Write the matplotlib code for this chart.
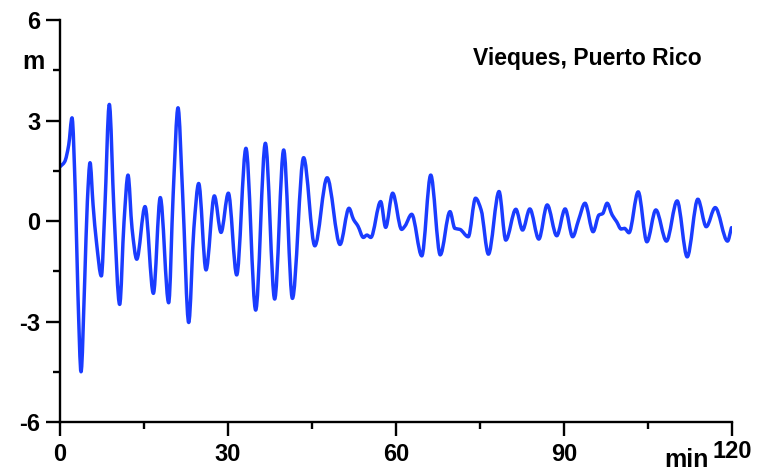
import numpy as np
import matplotlib
matplotlib.use('Agg')
from matplotlib import pyplot as plt
from matplotlib.path import Path
from matplotlib.patches import PathPatch
from matplotlib.ticker import MultipleLocator

# 潮位记录: 时间 (min) 与水位 (m), 取波峰、波谷及拐点
t = [0.0, 0.83, 1.55, 2.14, 2.74, 3.2, 3.75, 4.4, 4.88, 5.36, 5.9, 6.5, 7.38, 7.98,
     8.8, 9.64, 10.65, 11.43, 12.14, 12.86, 13.7, 15.18, 16.67, 17.9, 19.4, 20.2,
     21.07, 21.9, 22.98, 23.9, 24.76, 26.07, 27.56, 28.75, 30.06, 31.55, 33.2,
     34.94, 36.67, 38.33, 39.94, 41.5, 43.5, 45.5, 47.7, 50.0, 51.6, 52.4, 53.2,
     54.17, 54.8, 55.5, 57.26, 58.15, 59.4, 61.0, 61.6, 62.8, 64.6, 66.2, 67.9,
     69.64, 70.5, 71.4, 72.9, 74.2, 75.2, 76.5, 78.4, 79.6, 81.4, 82.6, 83.9,
     85.5, 87.0, 88.7, 90.2, 91.55, 92.6, 93.75, 95.2, 96.25, 96.9, 97.7, 98.6,
     99.4, 100.2, 100.8, 101.6, 103.25, 104.8, 106.4, 108.3, 110.2, 112.0, 113.9,
     115.4, 117.0, 119.2, 119.9]
h = [1.62, 1.77, 2.27, 3.08, 0.78, -2.2, -4.5, -1.81, 0.58, 1.74, 0.48, -0.62, -1.64, 0.28,
     3.48, 0.28, -2.49, -0.02, 1.37, -0.22, -1.14, 0.43, -2.16, 0.7, -2.44, 0.78,
     3.38, 0.78, -3.03, -0.22, 1.12, -1.46, 0.75, -0.34, 0.83, -1.61, 2.17,
     -2.66, 2.32, -2.33, 2.12, -2.31, 1.89, -0.74, 1.29, -0.7, 0.38, 0.05, -0.15,
     -0.49, -0.42, -0.49, 0.58, -0.19, 0.83, -0.25, -0.15, 0.2, -1.04, 1.37, -1.01,
     0.28, -0.22, -0.25, -0.47, 0.68, 0.33, -0.99, 0.88, -0.57, 0.35, -0.27, 0.36,
     -0.54, 0.48, -0.44, 0.36, -0.47, 0.03, 0.53, -0.32, 0.18, 0.22, 0.53, 0.18,
     -0.02, -0.24, -0.22, -0.35, 0.87, -0.62, 0.33, -0.6, 0.6, -1.07, 0.65,
     -0.17, 0.4, -0.6, -0.2]

xticks = [0, 30, 60, 90, 120]
yticks = [-6, -3, 0, 3, 6]
station = 'Vieques, Puerto Rico'


def smooth_path(x, y):
    # 分段三次 Hermite (保形斜率), 转成 Bezier 曲线交给 matplotlib 绘制
    x = np.asarray(x, float)
    y = np.asarray(y, float)
    dx = np.diff(x)
    d = np.diff(y) / dx
    m = np.zeros_like(y)
    for k in range(1, len(y) - 1):
        if d[k - 1] * d[k] > 0:
            w1 = 2 * dx[k] + dx[k - 1]
            w2 = dx[k] + 2 * dx[k - 1]
            m[k] = (w1 + w2) / (w1 / d[k - 1] + w2 / d[k])
    m[0] = d[0]
    m[-1] = d[-1]
    verts = [(x[0], y[0])]
    codes = [Path.MOVETO]
    for k in range(len(dx)):
        s = dx[k] / 3
        verts += [(x[k] + s, y[k] + m[k] * s),
                  (x[k + 1] - s, y[k + 1] - m[k + 1] * s),
                  (x[k + 1], y[k + 1])]
        codes += [Path.CURVE4] * 3
    return Path(verts, codes)


plt.rcParams['font.family'] = ['Liberation Sans', 'DejaVu Sans']
plt.rcParams['font.weight'] = 'bold'

fig = plt.figure(figsize=(7.58, 4.74), dpi=100)
ax = fig.add_axes([0.0792, 0.1097, 0.8865, 0.8481])

ax.add_patch(PathPatch(smooth_path(t, h), fill=False, edgecolor='#1a3cff',
                       lw=2.5, joinstyle='round', capstyle='round'))

ax.set_xlim(0, 120)
ax.set_ylim(-6, 6)
ax.set_xticks(xticks)
ax.set_yticks(yticks)
ax.xaxis.set_minor_locator(MultipleLocator(15))
ax.yaxis.set_minor_locator(MultipleLocator(1.5))
ax.set_xticklabels([str(v) if v != 120 else '' for v in xticks])
ax.set_yticklabels([str(v) for v in yticks])

for s in ['top', 'right']:
    ax.spines[s].set_visible(False)
for s in ['left', 'bottom']:
    ax.spines[s].set_linewidth(1.7)

ax.tick_params(which='major', length=10, width=1.7, labelsize=17, pad=4)
ax.tick_params(which='minor', length=5, width=1.7)
ax.tick_params(axis='x', which='major', pad=5)

ax.text(120, -6.55, '120', ha='center', va='top', fontsize=17, fontweight='bold', clip_on=False)
ax.text(111.8, -7.35, 'min', ha='center', va='baseline', fontsize=18, fontweight='bold', clip_on=False)
ax.text(-4.8, 4.75, 'm', ha='center', va='center', fontsize=18, fontweight='bold', clip_on=False)
ax.text(0.784, 0.905, station, transform=ax.transAxes, ha='center', va='center',
        fontsize=16.5, fontweight='bold')

fig.savefig('out.png', dpi=100)
